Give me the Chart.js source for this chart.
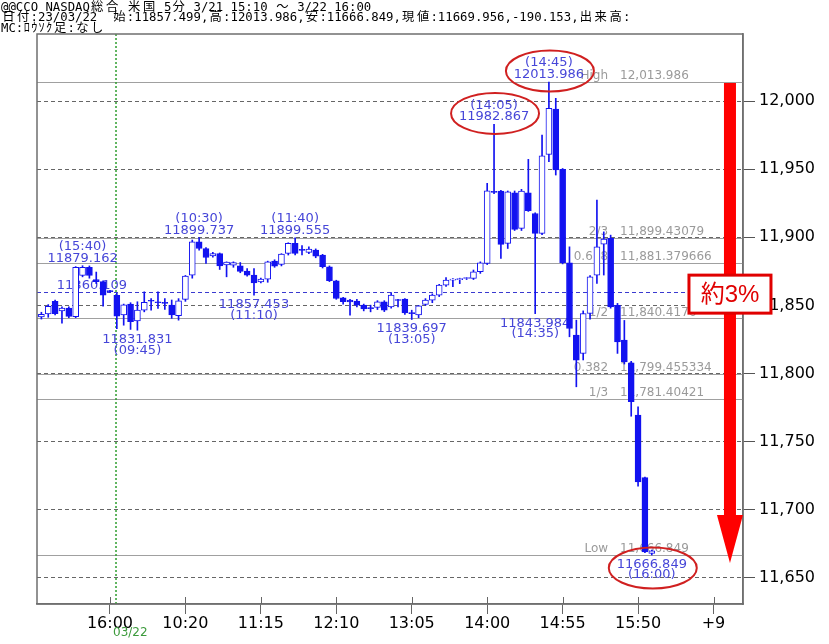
<!DOCTYPE html>
<html><head><meta charset="utf-8">
<script src="https://cdn.jsdelivr.net/npm/chart.js@4.4.0/dist/chart.umd.min.js"></script>
<style>
html,body{margin:0;padding:0;background:#fff;}
#wrap{position:relative;width:829px;height:644px;overflow:hidden;}
canvas{position:absolute;left:0;top:0;}
.hl{position:absolute;left:1px;font-family:"DejaVu Sans Mono","Noto Sans CJK JP",monospace;font-size:12.3px;line-height:12px;color:#000;white-space:pre;}
.hl:nth-child(2){top:0px}.hl:nth-child(3){top:10.3px}.hl:nth-child(4){top:20.7px}
.fw{display:inline-block;width:14.8px;text-align:center;font-family:"Noto Sans CJK JP";}
.hw{display:inline-block;width:7.4px;text-align:center;font-family:"Noto Sans CJK JP";}
</style></head><body>
<div id="wrap"><canvas id="c" width="829" height="644"></canvas></div>
<script>
// ---------------- data ----------------
const headerLines = [
  '@@CCO NASDAQ総合 米国 5分 3/21 15:10 ～ 3/22 16:00',
  '日付:23/03/22　始:11857.499,高:12013.986,安:11666.849,現値:11669.956,-190.153,出来高:',
  'MC:ﾛｳｿｸ足:なし'
];
const times = [
  '15:10','15:15','15:20','15:25','15:30','15:35','15:40','15:45','15:50','15:55','16:00',
  '09:30','09:35','09:40','09:45','09:50','09:55',
  '10:00','10:05','10:10','10:15','10:20','10:25','10:30','10:35','10:40','10:45','10:50','10:55',
  '11:00','11:05','11:10','11:15','11:20','11:25','11:30','11:35','11:40','11:45','11:50','11:55',
  '12:00','12:05','12:10','12:15','12:20','12:25','12:30','12:35','12:40','12:45','12:50','12:55',
  '13:00','13:05','13:10','13:15','13:20','13:25','13:30','13:35','13:40','13:45','13:50','13:55',
  '14:00','14:05','14:10','14:15','14:20','14:25','14:30','14:35','14:40','14:45','14:50','14:55',
  '15:00','15:05','15:10','15:15','15:20','15:25','15:30','15:35','15:40','15:45','15:50','15:55',
  '16:00'
];
const opens = [
  11841.5,11843.7,11853.0,11846.0,11848.0,11841.7,11872.0,11878.0,11869.0,11867.5,11860.6,
  11857.499,11843.0,11851.0,11838.7,11846.6,11853.4,11852.5,11852.0,11850.2,11842.5,
  11854.4,11872.3,11896.7,11891.8,11886.3,11888.0,11879.8,11879.5,11879.0,11875.2,
  11872.2,11867.3,11869.3,11882.5,11880.1,11888.2,11895.5,11890.6,11888.9,11890.6,
  11887.0,11878.4,11868.1,11855.6,11853.9,11853.2,11850.2,11847.9,11848.5,11852.7,
  11849.0,11853.9,11854.6,11844.2,11843.0,11850.7,11853.9,11857.6,11864.9,11868.6,
  11869.0,11869.8,11869.8,11874.7,11880.8,11933.4,11933.9,11895.5,11932.7,11906.5,
  11932.7,11917.5,11902.9,11960.8,11994.1,11949.9,11881.3,11828.2,11814.7,11844.1,
  11872.3,11895.0,11899.2,11850.0,11824.5,11807.9,11769.5,11723.7,11668.0
];
const highs = [
  11845.0,11850.6,11854.0,11849.0,11849.0,11878.5,11879.162,11879.0,11874.5,11868.0,11861.0,
  11858.8,11851.0,11852.0,11852.7,11860.0,11855.0,11860.0,11855.0,11854.0,11855.0,
  11872.0,11898.0,11899.737,11892.5,11889.0,11888.5,11882.0,11882.0,11881.5,11877.0,
  11877.1,11870.0,11882.5,11883.5,11888.0,11896.0,11899.555,11894.0,11893.0,11891.5,
  11887.5,11879.0,11868.5,11856.0,11854.4,11854.5,11851.0,11850.2,11853.5,11853.5,
  11859.5,11854.5,11855.0,11846.5,11850.0,11855.0,11858.5,11865.5,11870.5,11869.8,
  11870.0,11870.5,11876.0,11882.0,11939.6,11982.867,11934.5,11934.0,11934.0,11935.2,
  11957.2,11918.0,11975.0,12013.986,12002.0,11950.5,11893.0,11839.2,11846.0,11872.0,
  11927.3,11904.0,11901.6,11851.5,11839.0,11809.0,11775.6,11724.0,11670.5
];
const lows = [
  11840.0,11841.3,11843.0,11837.0,11841.0,11841.0,11871.0,11870.0,11866.0,11849.5,11859.5,
  11833.0,11835.5,11832.4,11831.831,11845.3,11846.6,11847.8,11847.0,11840.5,11839.2,
  11853.0,11870.0,11890.6,11880.8,11885.5,11876.4,11871.0,11878.0,11874.0,11871.5,
  11857.453,11866.5,11867.0,11878.0,11879.0,11887.0,11887.0,11887.0,11888.0,11885.0,
  11877.5,11867.5,11854.5,11851.0,11842.9,11849.0,11846.0,11845.3,11847.0,11845.5,
  11848.0,11849.0,11843.5,11839.697,11841.0,11850.0,11852.0,11856.5,11864.0,11863.7,
  11866.0,11869.0,11869.0,11873.5,11880.0,11932.0,11884.5,11891.8,11905.0,11905.0,
  11919.0,11843.984,11902.0,11955.5,11945.7,11880.5,11827.0,11790.3,11810.0,11840.0,
  11866.1,11872.3,11848.0,11814.8,11807.0,11768.7,11717.3,11668.5,11666.849
];
const closes = [
  11843.5,11849.3,11844.0,11848.0,11842.0,11877.9,11878.0,11872.0,11867.5,11857.6,11860.109,
  11842.1,11850.5,11838.0,11846.6,11852.2,11853.1,11852.0,11851.5,11843.0,11853.4,
  11871.5,11896.7,11891.8,11885.2,11888.0,11879.0,11881.8,11881.5,11875.0,11872.2,
  11866.6,11869.3,11882.0,11878.9,11887.7,11895.5,11888.2,11890.4,11891.3,11886.2,
  11878.4,11868.1,11855.1,11852.7,11852.5,11850.2,11847.5,11847.7,11852.7,11846.6,
  11857.6,11853.6,11844.6,11844.0,11849.7,11853.9,11857.6,11864.9,11868.6,11868.8,
  11869.3,11869.9,11874.7,11881.3,11934.2,11933.0,11894.8,11933.4,11905.8,11933.9,
  11919.5,11902.9,11959.8,11994.6,11949.4,11881.3,11833.1,11809.9,11844.1,11871.0,
  11893.0,11898.7,11849.0,11823.3,11808.6,11779.3,11720.5,11669.1,11669.956
];
const xTickIdx = [10,21,32,43,54,65,76,87,98];
const xTickLabels = ['16:00','10:20','11:15','12:10','13:05','14:00','14:55','15:50','+9'];
const yTicks = [11650,11700,11750,11800,11850,11900,11950,12000];
const fibNames = ['High','2/3','0.618','1/2','0.382','1/3','Low'];
const fibValues = [12013.986,11899.43079,11881.379666,11840.4176,11799.455334,11781.40421,11666.849];
const prevClose = 11860.109;
const dayBreakIdx = 10.88;
const dayLabel = '03/22';
// price callouts: candle index, which price
const notes = [
  {i:6,at:'high'},{i:14,at:'low'},{i:23,at:'high'},{i:31,at:'low'},{i:37,at:'high'},
  {i:54,at:'low'},{i:66,at:'high',ring:true},{i:72,at:'low'},{i:74,at:'high',ring:true},{i:89,at:'low',ring:true}
];
const dropText = '約3%';
const arrowIdx = 100.4;
const boxValue = 11858.3;
const fibLabelIdx = 83.5;

// ---------------- header ----------------
const wrap = document.getElementById('wrap');
headerLines.forEach(line => {
  const d = document.createElement('div'); d.className = 'hl';
  for (const ch of line) {
    const c = ch.codePointAt(0);
    if (c >= 0xFF61 && c <= 0xFF9F) { const s = document.createElement('span'); s.className='hw'; s.textContent=ch; d.appendChild(s); }
    else if (c >= 0x2E80) { const s = document.createElement('span'); s.className='fw'; s.textContent=ch; d.appendChild(s); }
    else d.appendChild(document.createTextNode(ch));
  }
  wrap.appendChild(d);
});

// ---------------- chart ----------------
const BLUE = '#1212f0';
const NOTE = '#4646d8';
const fmtComma = v => { const s = String(v).split('.'); return Number(s[0]).toLocaleString('en-US') + (s[1] ? '.' + s[1] : ''); };

const overlay = {
  id: 'overlay',
  beforeDatasetsDraw(chart) {
    const {ctx, chartArea: a, scales: {x, y}} = chart;
    ctx.save();
    ctx.lineWidth = 1; ctx.setLineDash([]); ctx.strokeStyle = '#a0a0a0';
    fibValues.forEach(v => {
      const py = Math.round(y.getPixelForValue(v)) + 0.5;
      ctx.beginPath(); ctx.moveTo(a.left, py); ctx.lineTo(a.right, py); ctx.stroke();
    });
    ctx.strokeStyle = '#3a3ad0'; ctx.setLineDash([4, 3]);
    let py = Math.round(y.getPixelForValue(prevClose)) + 0.5;
    ctx.beginPath(); ctx.moveTo(a.left, py); ctx.lineTo(a.right, py); ctx.stroke();
    ctx.strokeStyle = '#2e9e2e'; ctx.setLineDash([2, 2]); ctx.lineWidth = 1.5;
    const gx = x.getPixelForValue(dayBreakIdx);
    ctx.beginPath(); ctx.moveTo(gx, a.top); ctx.lineTo(gx, a.bottom); ctx.stroke();
    ctx.setLineDash([]); ctx.strokeStyle = '#6f6f6f'; ctx.lineWidth = 1.5;
    ctx.strokeRect(a.left, a.top, a.right - a.left, a.bottom - a.top);
    // x tick marks crossing the bottom frame
    ctx.lineWidth = 1; ctx.strokeStyle = '#666';
    xTickIdx.forEach(v => {
      const tx = Math.round(x.getPixelForValue(v)) + 0.5;
      ctx.beginPath(); ctx.moveTo(tx, a.bottom - 7); ctx.lineTo(tx, a.bottom); ctx.stroke();
    });
    // fib labels
    ctx.font = '12px "DejaVu Sans"'; ctx.fillStyle = '#9a9a9a'; ctx.textBaseline = 'middle';
    const lx = x.getPixelForValue(fibLabelIdx);
    fibValues.forEach((v, k) => {
      const ty = y.getPixelForValue(v) - 6;
      ctx.textAlign = 'right'; ctx.fillText(fibNames[k], lx - 6, ty);
      ctx.textAlign = 'left'; ctx.fillText(fmtComma(v), lx + 6, ty);
    });
    // price callouts
    ctx.font = '13px "DejaVu Sans"'; ctx.fillStyle = NOTE; ctx.textAlign = 'center';
    ctx.fillText(prevClose.toFixed(3), x.getPixelForValue(10) - 18, y.getPixelForValue(prevClose) - 6.5);
    notes.forEach(n => {
      const px = x.getPixelForValue(n.i);
      const tm = '(' + times[n.i] + ')';
      if (n.at === 'high') {
        const hy = y.getPixelForValue(highs[n.i]);
        ctx.fillText(tm, px, hy - 19); ctx.fillText(highs[n.i].toFixed(3), px, hy - 7.5);
      } else {
        const ly = y.getPixelForValue(lows[n.i]);
        ctx.fillText(lows[n.i].toFixed(3), px, ly + 9.5); ctx.fillText(tm, px, ly + 20);
      }
    });
    ctx.restore();
  },
  afterDatasetsDraw(chart) {
    const {ctx, chartArea: a, scales: {x, y}} = chart;
    ctx.save();
    // rings
    ctx.strokeStyle = '#d02020'; ctx.lineWidth = 2;
    notes.filter(n => n.ring).forEach(n => {
      const px = x.getPixelForValue(n.i) + 1;
      let cy;
      if (n.at === 'high') cy = y.getPixelForValue(highs[n.i]) - 11;
      else cy = y.getPixelForValue(lows[n.i]) + 13;
      ctx.beginPath(); ctx.ellipse(px, cy, 44, 20.5, 0, 0, Math.PI * 2); ctx.stroke();
    });
    // drop arrow
    const ax = x.getPixelForValue(arrowIdx);
    const top = y.getPixelForValue(fibValues[0]) + 1;
    const tip = y.getPixelForValue(fibValues[6]) + 8;
    ctx.fillStyle = '#ff0000';
    ctx.fillRect(ax - 6, top, 12, tip - 48 - top + 1);
    ctx.beginPath(); ctx.moveTo(ax - 13, tip - 48); ctx.lineTo(ax + 13, tip - 48); ctx.lineTo(ax, tip); ctx.closePath(); ctx.fill();
    // box
    const by = y.getPixelForValue(boxValue);
    ctx.fillStyle = '#ffffff'; ctx.fillRect(ax - 41, by - 19, 82, 38);
    ctx.strokeStyle = '#e00000'; ctx.lineWidth = 3; ctx.strokeRect(ax - 41, by - 19, 82, 38);
    ctx.fillStyle = '#e00000'; ctx.font = '24px "Liberation Sans","Noto Sans CJK JP"';
    ctx.textAlign = 'center'; ctx.textBaseline = 'middle';
    ctx.fillText(dropText, ax, by + 1);
    // day label
    ctx.fillStyle = '#3c9a3c'; ctx.font = '12px "DejaVu Sans"'; ctx.textAlign = 'left';
    ctx.fillText(dayLabel, x.getPixelForValue(dayBreakIdx) - 3, a.bottom + 29);
    ctx.restore();
  }
};

new Chart(document.getElementById('c'), {
  type: 'bar',
  data: {
    datasets: [
      {
        label: 'body', order: 1, grouped: false, barThickness: 6, minBarLength: 1,
        borderWidth: 1, borderSkipped: false, borderColor: BLUE,
        backgroundColor: c => (closes[c.dataIndex] >= opens[c.dataIndex] ? '#ffffff' : BLUE),
        data: opens.map((o, i) => ({x: i, y: [o, closes[i]]}))
      },
      {
        label: 'wick', order: 2, grouped: false, barThickness: 1, borderWidth: 0,
        backgroundColor: BLUE,
        data: lows.map((l, i) => ({x: i, y: [l, highs[i]]}))
      }
    ]
  },
  options: {
    responsive: false, animation: false, devicePixelRatio: 1,
    layout: {padding: {left: 37, top: 34, right: 0, bottom: 0}},
    plugins: {legend: {display: false}, tooltip: {enabled: false}},
    scales: {
      x: {
        type: 'linear', min: -0.64, max: 102.3, offset: false,
        afterBuildTicks: s => { s.ticks = xTickIdx.map(v => ({value: v})); },
        afterFit: s => { s.height = 40; },
        ticks: {
          autoSkip: false, maxRotation: 0, padding: 0, color: '#000',
          font: {family: 'DejaVu Sans', size: 16},
          callback: v => xTickLabels[xTickIdx.indexOf(v)]
        },
        grid: {offset: false, drawOnChartArea: false, tickLength: 10, color: '#666', lineWidth: 1},
        border: {color: '#6f6f6f', width: 1.5}
      },
      y: {
        position: 'right', min: 11630.9, max: 12049.2,
        afterBuildTicks: s => { s.ticks = yTicks.map(v => ({value: v})); },
        afterFit: s => { s.width = 86; },
        ticks: {
          padding: 4, color: '#000', font: {family: 'DejaVu Sans', size: 16},
          callback: v => Number(v).toLocaleString('en-US')
        },
        grid: {color: '#666', lineWidth: 1, tickLength: 12, tickColor: '#555', tickBorderDash: []},
        border: {color: '#6f6f6f', width: 1.5, dash: [4, 3]}
      }
    }
  },
  plugins: [overlay]
});
</script>
</body></html>
